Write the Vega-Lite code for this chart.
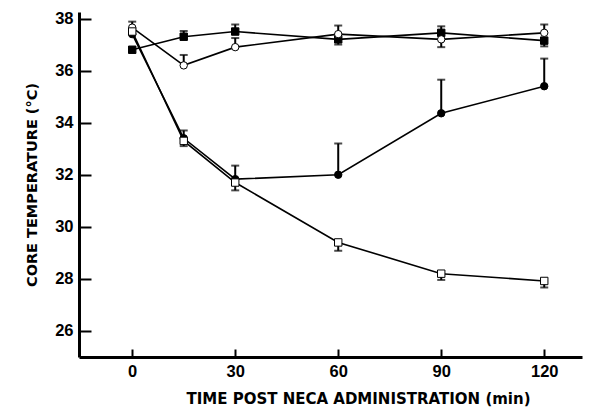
{
  "$schema": "https://vega.github.io/schema/vega-lite/v6.json",
  "width": 503,
  "height": 345,
  "autosize": {"type": "none"},
  "padding": {"left": 79, "top": 12, "right": 10, "bottom": 54},
  "background": "white",
  "config": {
    "view": {"stroke": null},
    "axis": {
      "grid": false,
      "domainColor": "black",
      "domainWidth": 3,
      "tickColor": "black",
      "tickWidth": 2,
      "labelColor": "black",
      "labelFont": "Liberation Sans",
      "labelFontWeight": "bold",
      "labelFontSize": 16.5,
      "titleColor": "black",
      "titleFont": "DejaVu Sans",
      "titleFontWeight": "bold",
      "titleFontSize": 13
    }
  },
  "data": {
    "values": [
      {"group": "A", "t": 0, "temp": 36.8, "bar": null},
      {"group": "A", "t": 15, "temp": 37.3, "bar": 37.52},
      {"group": "A", "t": 30, "temp": 37.5, "bar": 37.77},
      {"group": "A", "t": 60, "temp": 37.2, "bar": 37.0},
      {"group": "A", "t": 90, "temp": 37.45, "bar": 37.7},
      {"group": "A", "t": 120, "temp": 37.15, "bar": 36.93},
      {"group": "B", "t": 0, "temp": 37.65, "bar": 37.88},
      {"group": "B", "t": 15, "temp": 36.2, "bar": 36.6},
      {"group": "B", "t": 30, "temp": 36.9, "bar": 37.25},
      {"group": "B", "t": 60, "temp": 37.4, "bar": 37.73},
      {"group": "B", "t": 90, "temp": 37.2, "bar": 36.9},
      {"group": "B", "t": 120, "temp": 37.45, "bar": 37.77},
      {"group": "C", "t": 0, "temp": 37.4, "bar": null},
      {"group": "C", "t": 15, "temp": 33.4, "bar": 33.7},
      {"group": "C", "t": 30, "temp": 31.83, "bar": 32.35},
      {"group": "C", "t": 60, "temp": 32.0, "bar": 33.2},
      {"group": "C", "t": 90, "temp": 34.36, "bar": 35.65},
      {"group": "C", "t": 120, "temp": 35.4, "bar": 36.46},
      {"group": "D", "t": 0, "temp": 37.5, "bar": null},
      {"group": "D", "t": 15, "temp": 33.3, "bar": 33.1},
      {"group": "D", "t": 30, "temp": 31.7, "bar": 31.4},
      {"group": "D", "t": 60, "temp": 29.4, "bar": 29.08},
      {"group": "D", "t": 90, "temp": 28.2, "bar": 27.96},
      {"group": "D", "t": 120, "temp": 27.92, "bar": 27.67}
    ]
  },
  "encoding": {
    "x": {
      "field": "t",
      "type": "quantitative",
      "scale": {"domain": [-15.5, 131], "nice": false, "zero": false},
      "axis": {
        "values": [0, 30, 60, 90, 120],
        "tickSize": -8,
        "labelPadding": 14,
        "title": "TIME POST NECA ADMINISTRATION (min)",
        "titleFontSize": 15,
        "titlePadding": 12,
        "titleX": 279
      }
    },
    "y": {
      "field": "temp",
      "type": "quantitative",
      "scale": {"domain": [25, 38.25], "nice": false, "zero": false},
      "axis": {
        "values": [26, 28, 30, 32, 34, 36, 38],
        "tickSize": -12,
        "labelPadding": 18,
        "title": "CORE TEMPERATURE  (°C)",
        "titleFontSize": 14.5,
        "titlePadding": 15
      }
    }
  },
  "layer": [
    {
      "mark": {"type": "line", "color": "black", "strokeWidth": 1.6},
      "encoding": {"detail": {"field": "group"}}
    },
    {
      "transform": [{"filter": "datum.bar != null"}],
      "mark": {"type": "rule", "color": "black", "strokeWidth": 2},
      "encoding": {"y2": {"field": "bar"}}
    },
    {
      "transform": [{"filter": "datum.bar != null"}],
      "mark": {"type": "tick", "orient": "horizontal", "color": "black", "size": 8, "thickness": 2},
      "encoding": {"y": {"field": "bar", "type": "quantitative"}}
    },
    {
      "mark": {"type": "point", "opacity": 1, "strokeWidth": 1},
      "encoding": {
        "shape": {
          "field": "group",
          "type": "nominal",
          "scale": {"domain": ["A", "B", "C", "D"], "range": ["square", "circle", "circle", "square"]},
          "legend": null
        },
        "fill": {
          "field": "group",
          "type": "nominal",
          "scale": {"domain": ["A", "B", "C", "D"], "range": ["black", "white", "black", "white"]},
          "legend": null
        },
        "size": {
          "field": "group",
          "type": "nominal",
          "scale": {"domain": ["A", "B", "C", "D"], "range": [55, 55, 55, 36]},
          "legend": null
        },
        "stroke": {"value": "black"}
      }
    }
  ]
}
